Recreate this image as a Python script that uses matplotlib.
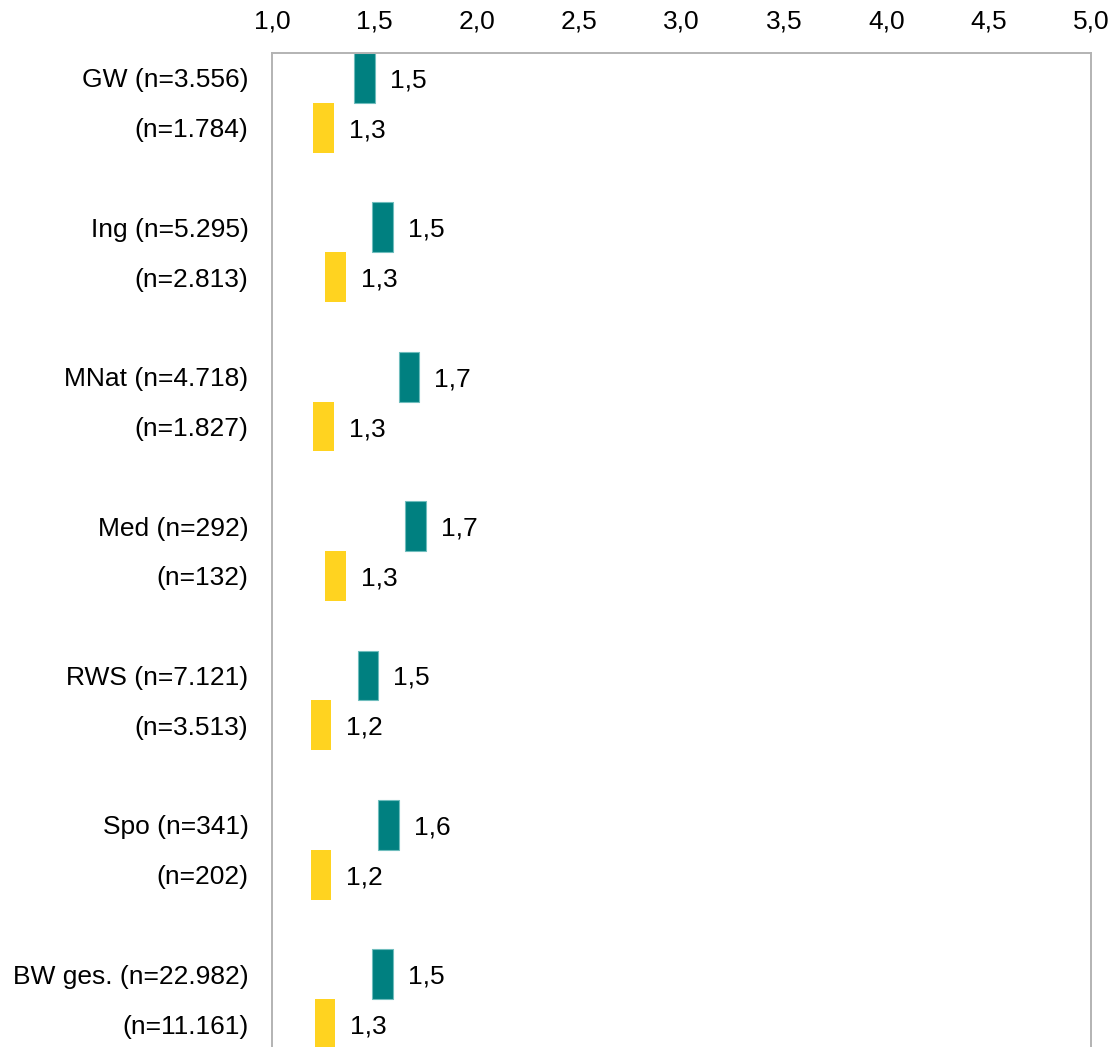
import numpy as np
import matplotlib
matplotlib.use('Agg')
import matplotlib.pyplot as plt

plt.rcParams['font.family'] = ['Liberation Sans', 'DejaVu Sans']

# data
groups = ['GW', 'Ing', 'MNat', 'Med', 'RWS', 'Spo', 'BW ges.']
n_teal = ['3.556', '5.295', '4.718', '292', '7.121', '341', '22.982']
n_yellow = ['1.784', '2.813', '1.827', '132', '3.513', '202', '11.161']
teal_vals = [1.451, 1.54, 1.67, 1.70, 1.47, 1.57, 1.54]
yellow_vals = [1.251, 1.31, 1.251, 1.31, 1.24, 1.24, 1.26]

TEAL = '#008080'
YELLOW = '#FFD320'
GRID = '#B3B3B3'
FS = 19

W, H = 1118, 1047
fig = plt.figure(figsize=(W / 100, H / 100), dpi=100)
slot = 49.8
top_px = 53
left_px, right_px = 272, 1091
ax_h = 21 * slot
ax = fig.add_axes([left_px / W, (H - top_px - ax_h) / H,
                   (right_px - left_px) / W, ax_h / H])

g = np.arange(len(groups))
y_teal = 3 * g
y_yellow = 3 * g + 1
bw = 0.1

ax.barh(y_teal, bw, left=np.array(teal_vals) - bw / 2, height=1.0,
        color=TEAL, edgecolor='#6FBDBD', linewidth=0.8)
ax.barh(y_yellow, bw, left=np.array(yellow_vals) - bw / 2, height=1.0,
        color=YELLOW, linewidth=0)

for ys, vals in [(y_teal, teal_vals), (y_yellow, yellow_vals)]:
    for y, v in zip(ys, vals):
        ax.annotate(('%.1f' % v).replace('.', ','), (v + bw / 2, y),
                    xytext=(15, 0), textcoords='offset pixels',
                    va='center_baseline', ha='left', fontsize=FS)

ticks = np.arange(1.0, 5.01, 0.5)
ax.set_xlim(1.0, 5.0)
ax.set_ylim(20.5, -0.5)
ax.set_xticks(ticks)
ax.set_xticklabels([('%.1f' % t).replace('.', ',') for t in ticks])
ax.xaxis.tick_top()
ax.tick_params(axis='x', length=0, pad=14, labelsize=FS)

yt = list(y_teal) + list(y_yellow)
yl = ['%s (n=%s)' % (c, n) for c, n in zip(groups, n_teal)] + \
     ['(n=%s)' % n for n in n_yellow]
ax.set_yticks(yt)
ax.set_yticklabels(yl)
ax.tick_params(axis='y', length=0, pad=17, labelsize=FS)
for lab in ax.get_yticklabels():
    lab.set_va('center_baseline')

for s in ['left', 'right', 'top']:
    ax.spines[s].set_color(GRID)
    ax.spines[s].set_linewidth(1.4)
ax.spines['bottom'].set_visible(False)

fig.savefig('out.png', dpi=100)
